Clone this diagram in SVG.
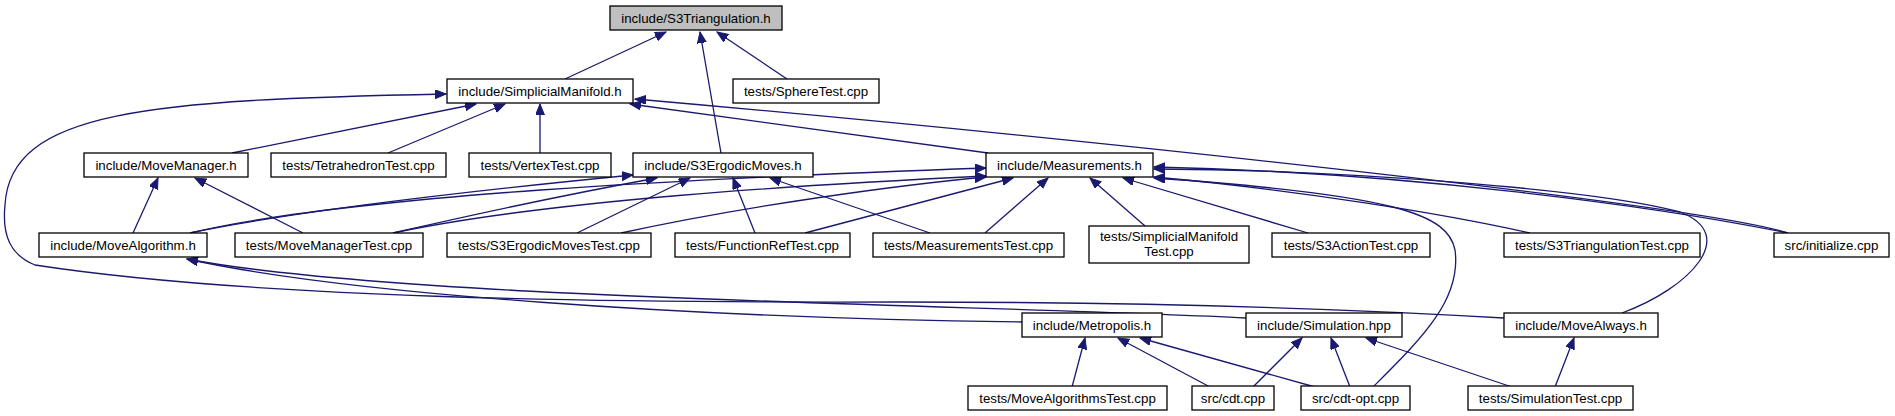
<svg xmlns="http://www.w3.org/2000/svg" width="1895" height="416" viewBox="0 0 1895 416">
<style>
.node rect{fill:#ffffff;stroke:#000000;stroke-width:1.3}
.node text{font-family:"Liberation Sans",Arial,Helvetica,sans-serif;font-size:13.3px;text-anchor:middle;fill:#000000}
#n-s3tri rect{fill:#bfbfbf}
.edge{fill:none;stroke:#191970;stroke-width:1.3;marker-end:url(#ah)}
</style>
<defs>
<marker id="ah" markerWidth="13" markerHeight="10" refX="11" refY="4.5" orient="auto" markerUnits="userSpaceOnUse">
<path d="M0,0 L11,4.5 L0,9 z" fill="#191970" stroke="#191970" stroke-width="1"/>
</marker>
</defs>
<rect width="1895" height="416" fill="#ffffff"/>
<g id="edges">
<path class="edge" d="M565,79 L666,32"/>
<path class="edge" d="M721,153 L700,32"/>
<path class="edge" d="M787,79 L717,32"/>
<path class="edge" d="M232,153 L476,104"/>
<path class="edge" d="M388,153 L505,104"/>
<path class="edge" d="M540,153 L540,104"/>
<path class="edge" d="M988,153 L630,104"/>
<path class="edge" d="M1788,233 C1700,205 1100,140 635,99"/>
<path class="edge" d="M1504,318 C1300,306 1100,302 900,302 C600,303 250,298 35,265 C10,255 2,235 5,205 C10,110 150,100 446,94"/>
<path class="edge" d="M133,233 L158,178"/>
<path class="edge" d="M303,233 L195,178"/>
<path class="edge" d="M190,233 C300,210 500,188 633,175"/>
<path class="edge" d="M393,233 C480,213 580,192 657,178"/>
<path class="edge" d="M190,233 C350,195 700,178 986,168"/>
<path class="edge" d="M393,233 C550,200 800,185 986,176"/>
<path class="edge" d="M577,233 L690,178"/>
<path class="edge" d="M755,233 L733,178"/>
<path class="edge" d="M930,233 L770,178"/>
<path class="edge" d="M621,233 C750,205 900,185 986,177"/>
<path class="edge" d="M805,233 L1013,178"/>
<path class="edge" d="M985,233 L1048,178"/>
<path class="edge" d="M1145,226 L1090,178"/>
<path class="edge" d="M1308,233 L1123,178"/>
<path class="edge" d="M1530,233 C1450,215 1300,190 1154,177"/>
<path class="edge" d="M1788,233 C1650,205 1400,172 1154,167"/>
<path class="edge" d="M1622,313 C1690,288 1740,235 1680,212 C1600,190 1350,170 1154,169"/>
<path class="edge" d="M1373,387 C1420,340 1462,300 1455,250 C1448,215 1400,195 1154,178"/>
<path class="edge" d="M1022,322 C700,318 350,295 187,259"/>
<path class="edge" d="M1246,318 C1000,305 400,300 187,259"/>
<path class="edge" d="M1072,387 L1085,338"/>
<path class="edge" d="M1210,387 L1118,338"/>
<path class="edge" d="M1315,387 L1140,338"/>
<path class="edge" d="M1253,387 L1302,338"/>
<path class="edge" d="M1350,387 L1331,338"/>
<path class="edge" d="M1512,387 L1366,338"/>
<path class="edge" d="M1555,387 L1574,338"/>
</g>
<g id="n-s3tri" class="node"><rect x="610" y="6" width="172" height="24"/><text x="696" y="22.5">include/S3Triangulation.h</text></g>
<g id="n-simpman" class="node"><rect x="447" y="79" width="186" height="24"/><text x="540" y="95.5">include/SimplicialManifold.h</text></g>
<g id="n-spheretest" class="node"><rect x="733" y="79" width="146" height="24"/><text x="806" y="95.5">tests/SphereTest.cpp</text></g>
<g id="n-movemanager" class="node"><rect x="84" y="153" width="164" height="24"/><text x="166" y="169.5">include/MoveManager.h</text></g>
<g id="n-tetratest" class="node"><rect x="271" y="153" width="175" height="24"/><text x="358.5" y="169.5">tests/TetrahedronTest.cpp</text></g>
<g id="n-vertextest" class="node"><rect x="469" y="153" width="142" height="24"/><text x="540" y="169.5">tests/VertexTest.cpp</text></g>
<g id="n-s3ergodic" class="node"><rect x="633" y="153" width="180" height="24"/><text x="723" y="169.5">include/S3ErgodicMoves.h</text></g>
<g id="n-measurements" class="node"><rect x="986" y="153" width="167" height="24"/><text x="1069.5" y="169.5">include/Measurements.h</text></g>
<g id="n-movealgorithm" class="node"><rect x="39" y="233" width="168" height="24"/><text x="123" y="249.5">include/MoveAlgorithm.h</text></g>
<g id="n-movemanagertest" class="node"><rect x="235" y="233" width="188" height="24"/><text x="329" y="249.5">tests/MoveManagerTest.cpp</text></g>
<g id="n-s3ergodictest" class="node"><rect x="447" y="233" width="204" height="24"/><text x="549" y="249.5">tests/S3ErgodicMovesTest.cpp</text></g>
<g id="n-functionreftest" class="node"><rect x="675" y="233" width="175" height="24"/><text x="762.5" y="249.5">tests/FunctionRefTest.cpp</text></g>
<g id="n-measurementstest" class="node"><rect x="873" y="233" width="191" height="24"/><text x="968.5" y="249.5">tests/MeasurementsTest.cpp</text></g>
<g id="n-simpmantest" class="node"><rect x="1089" y="226" width="160" height="37"/><text x="1169" y="241">tests/SimplicialManifold</text><text x="1169" y="256">Test.cpp</text></g>
<g id="n-s3actiontest" class="node"><rect x="1272" y="233" width="158" height="24"/><text x="1351" y="249.5">tests/S3ActionTest.cpp</text></g>
<g id="n-s3tritest" class="node"><rect x="1504" y="233" width="196" height="24"/><text x="1602" y="249.5">tests/S3TriangulationTest.cpp</text></g>
<g id="n-initialize" class="node"><rect x="1774" y="233" width="115" height="24"/><text x="1831.5" y="249.5">src/initialize.cpp</text></g>
<g id="n-metropolis" class="node"><rect x="1022" y="313" width="140" height="24"/><text x="1092" y="329.5">include/Metropolis.h</text></g>
<g id="n-simulation" class="node"><rect x="1246" y="313" width="156" height="24"/><text x="1324" y="329.5">include/Simulation.hpp</text></g>
<g id="n-movealways" class="node"><rect x="1504" y="313" width="154" height="24"/><text x="1581" y="329.5">include/MoveAlways.h</text></g>
<g id="n-movealgtest" class="node"><rect x="968" y="386" width="199" height="24"/><text x="1067.5" y="402.5">tests/MoveAlgorithmsTest.cpp</text></g>
<g id="n-cdt" class="node"><rect x="1192" y="386" width="82" height="24"/><text x="1233" y="402.5">src/cdt.cpp</text></g>
<g id="n-cdtopt" class="node"><rect x="1301" y="386" width="109" height="24"/><text x="1355.5" y="402.5">src/cdt-opt.cpp</text></g>
<g id="n-simtest" class="node"><rect x="1468" y="386" width="165" height="24"/><text x="1550.5" y="402.5">tests/SimulationTest.cpp</text></g>
</svg>
